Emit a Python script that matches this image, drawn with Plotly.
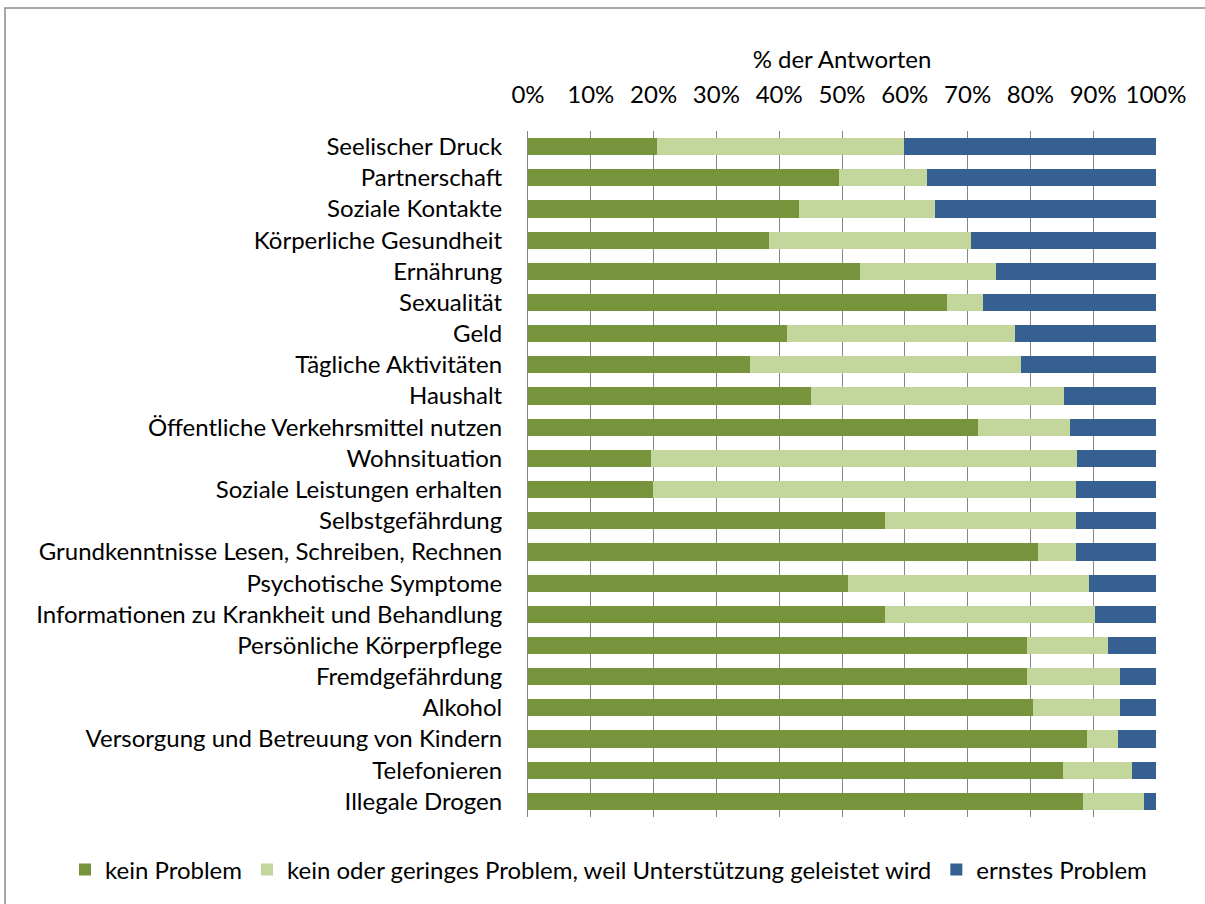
import plotly.graph_objects as go

categories = [
    "Seelischer Druck",
    "Partnerschaft",
    "Soziale Kontakte",
    "Körperliche Gesundheit",
    "Ernährung",
    "Sexualität",
    "Geld",
    "Tägliche Aktivitäten",
    "Haushalt",
    "Öffentliche Verkehrsmittel nutzen",
    "Wohnsituation",
    "Soziale Leistungen erhalten",
    "Selbstgefährdung",
    "Grundkenntnisse Lesen, Schreiben, Rechnen",
    "Psychotische Symptome",
    "Informationen zu Krankheit und Behandlung",
    "Persönliche Körperpflege",
    "Fremdgefährdung",
    "Alkohol",
    "Versorgung und Betreuung von Kindern",
    "Telefonieren",
    "Illegale Drogen",
]

kein_problem = [20.6, 49.6, 43.2, 38.3, 52.9, 66.7, 41.2, 35.4, 45.1, 71.6, 19.6,
                19.9, 56.8, 81.2, 51.0, 56.8, 79.4, 79.4, 80.4, 89.0, 85.2, 88.3]
mit_unterstuetzung = [39.3, 13.9, 21.6, 32.3, 21.6, 5.8, 36.3, 43.1, 40.3, 14.7, 67.8,
                      67.3, 30.5, 6.0, 38.3, 33.5, 12.9, 14.8, 13.8, 5.0, 11.0, 9.8]
ernstes_problem = [40.1, 36.5, 35.2, 29.4, 25.5, 27.5, 22.5, 21.5, 14.6, 13.7, 12.6,
                   12.8, 12.7, 12.8, 10.7, 9.7, 7.7, 5.8, 5.8, 6.0, 3.8, 1.9]

series = [
    ("kein Problem", kein_problem, "#77933C"),
    ("kein oder geringes Problem, weil Unterstützung geleistet wird", mit_unterstuetzung, "#C3D69B"),
    ("ernstes Problem", ernstes_problem, "#376092"),
]

FONT = "Lato"
FS = 24
W, H = 1205, 904
L, R, T, B = 528, 1156, 131, 817

fig = go.Figure()
for name, vals, color in series:
    fig.add_trace(go.Bar(
        y=categories, x=vals, name=name, orientation="h",
        marker=dict(color=color, line=dict(width=0)),
    ))

pw, ph = R - L, B - T

fig.update_layout(
    width=W, height=H,
    barmode="stack", bargap=0.45,
    plot_bgcolor="white", paper_bgcolor="white",
    margin=dict(l=L, r=W - R, t=T, b=H - B, pad=0),
    font=dict(family=FONT, size=FS, color="#000000"),
    xaxis=dict(
        side="top", range=[0, 100], dtick=10, ticksuffix="%",
        showgrid=True, gridcolor="#868686", gridwidth=1,
        zeroline=False, showline=False, ticks="",
        ticklabelstandoff=22,
        title=dict(text="% der Antworten", standoff=3, font=dict(size=FS)),
        tickfont=dict(size=FS), fixedrange=True,
    ),
    yaxis=dict(
        autorange="reversed", showgrid=False, showline=True,
        linecolor="#868686", linewidth=1, ticks="",
        ticklabelstandoff=20,
        tickfont=dict(size=FS), fixedrange=True,
    ),
    legend=dict(
        orientation="h", xref="paper", yref="paper",
        x=(65 - L) / pw, xanchor="left",
        y=-(870 - B) / ph, yanchor="middle",
        font=dict(size=FS), traceorder="normal",
        itemwidth=30, tracegroupgap=0,
    ),
    shapes=[dict(
        type="rect", xref="paper", yref="paper",
        x0=(5 - L) / pw, x1=(W + 20 - L) / pw,
        y0=-(H + 20 - B) / ph, y1=1 + (T - 8) / ph,
        line=dict(color="#8C8C8C", width=1.5),
        fillcolor="rgba(0,0,0,0)", layer="below",
    )],
)

fig.write_html("out.html")
